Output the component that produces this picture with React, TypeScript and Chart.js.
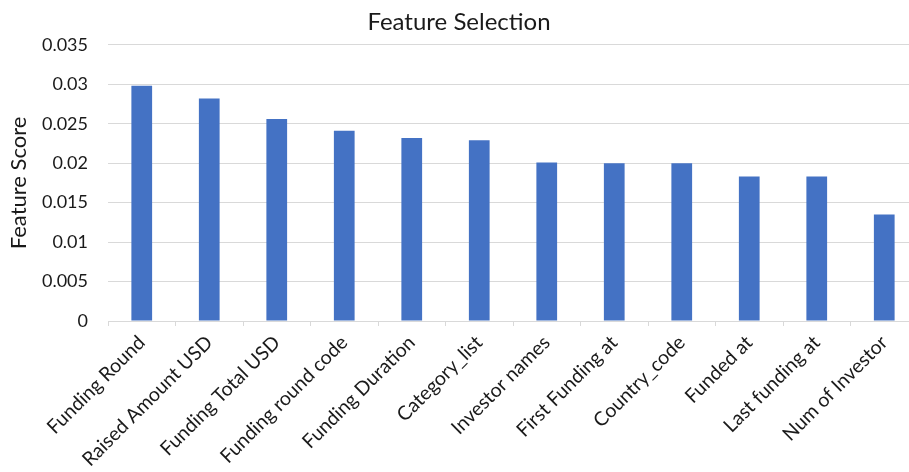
import React, { useEffect, useRef } from "react";
import { Chart, registerables } from "chart.js";

Chart.register(...registerables);

const categories: string[] = [
  "Funding Round",
  "Raised Amount USD",
  "Funding Total USD",
  "Funding round code",
  "Funding Duration",
  "Category_list",
  "Investor names",
  "First Funding at",
  "Country_code",
  "Funded at",
  "Last funding at",
  "Num of Investor",
];

const featureScores: number[] = [
  0.0298, 0.0282, 0.0256, 0.0241, 0.0232, 0.0229, 0.0201, 0.02, 0.02, 0.0183,
  0.0183, 0.0135,
];

const yMin = 0;
const yMax = 0.035;
const yStep = 0.005;

const FONT = "Lato, 'Open Sans', sans-serif";
const TEXT = "#1a1a1a";
const GRID = "#d9d9d9";
const BAR = "#4472C4";

export default function App() {
  const canvasRef = useRef<HTMLCanvasElement | null>(null);

  useEffect(() => {
    if (!canvasRef.current) return;
    const chart = new Chart(canvasRef.current, {
      type: "bar",
      data: {
        labels: categories,
        datasets: [
          {
            label: "Feature Score",
            data: featureScores,
            backgroundColor: BAR,
            borderWidth: 0,
            categoryPercentage: 1,
            barPercentage: 0.307,
          },
        ],
      },
      options: {
        responsive: false,
        animation: false,
        devicePixelRatio: 1,
        layout: { padding: { left: 0, right: 12, top: 0, bottom: 0 } },
        plugins: {
          legend: { display: false },
          tooltip: { enabled: false },
          title: {
            display: true,
            text: "Feature Selection",
            color: TEXT,
            font: { family: FONT, size: 24, weight: "normal", lineHeight: 1.2 },
            padding: { top: 8, bottom: 8 },
          },
        },
        scales: {
          x: {
            offset: true,
            grid: {
              display: true,
              drawOnChartArea: false,
              drawTicks: true,
              tickLength: 5,
              color: GRID,
              offset: true,
            },
            border: { display: true, color: GRID, width: 1 },
            ticks: {
              autoSkip: false,
              minRotation: 45,
              maxRotation: 45,
              padding: 5,
              color: TEXT,
              font: { family: FONT, size: 19.5 },
            },
            afterFit: (scale: any) => {
              scale.height = 151;
            },
          },
          y: {
            min: yMin,
            max: yMax,
            border: { display: false },
            grid: { color: GRID, lineWidth: 1, drawTicks: false },
            title: {
              display: true,
              text: "Feature Score",
              color: TEXT,
              font: { family: FONT, size: 22 },
              padding: { top: 6, bottom: 0 },
            },
            ticks: {
              stepSize: yStep,
              padding: 20,
              color: TEXT,
              font: { family: FONT, size: 18 },
              callback: (v: any) => String(Number(Number(v).toFixed(3))),
            },
            afterFit: (scale: any) => {
              scale.width = 108;
            },
          },
        },
      },
    });
    return () => chart.destroy();
  }, []);

  return (
    <div
      style={{
        position: "fixed",
        left: 0,
        top: 0,
        width: 909,
        height: 472,
        overflow: "hidden",
        background: "#fff",
      }}
    >
      <canvas ref={canvasRef} width={930} height={472} style={{ display: "block" }} />
    </div>
  );
}
